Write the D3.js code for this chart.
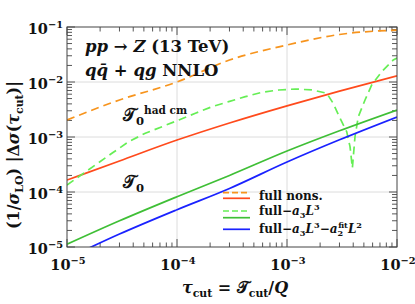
<!DOCTYPE html>
<html lang="en">
<head>
  <meta charset="UTF-8">
  <title>tau cut power corrections</title>
  <style>
    body { margin: 0; background: #fff; }
    svg { display: block; }
    text { font-family: 'DejaVu Serif', serif; font-weight: bold; fill: #111; }
  </style>
</head>
<body>
  <svg width="415" height="304"></svg>
  <script src="https://d3js.org/d3.v7.min.js"></script>
  <script>
    // data
    const tauGrid = [1e-5, 3e-5, 1e-4, 3e-4, 1e-3, 3e-3, 1e-2];
    const fullNonsHad = [2.04e-3, 4.71e-3, 1.0e-2, 2.51e-2, 4.71e-2, 7.31e-2, 8.81e-2];
    const fullNons = [1.65e-4, 3.67e-4, 8.8e-4, 1.80e-3, 3.69e-3, 6.84e-3, 1.29e-2];
    const fullA3 = [1.12e-5, 2.99e-5, 8.2e-5, 2.0e-4, 5.56e-4, 1.3e-3, 3.1e-3];
    const fullA3A2 = [6.2e-6, 1.72e-5, 4.77e-5, 1.16e-4, 3.51e-4, 8.9e-4, 2.31e-3];

    // full - a3 L^3 for hadronic cm Tau0 (changes sign, dip)
    const tauHadA3 = [1e-5, 1.81e-5, 2.56e-5, 3.64e-5, 5.15e-5, 7.31e-5, 1.04e-4, 1.47e-4, 2.08e-4,
      2.95e-4, 4.18e-4, 5.93e-4, 8.41e-4, 1.19e-3, 1.69e-3, 2.30e-3, 2.62e-3, 3.03e-3, 3.49e-3,
      3.74e-3, 3.93e-3, 4.15e-3, 4.45e-3, 5.12e-3, 5.89e-3, 7.26e-3, 9.25e-3, 1e-2];
    const fullA3Had = [1.34e-4, 3.10e-4, 5.06e-4, 8.22e-4, 1.17e-3, 1.54e-3, 2.04e-3, 2.70e-3, 3.56e-3,
      4.39e-3, 5.41e-3, 6.50e-3, 7.16e-3, 7.46e-3, 7.16e-3, 6.24e-3, 4.15e-3, 2.21e-3, 1.25e-3,
      6.67e-4, 2.73e-4, 1.01e-3, 2.34e-3, 4.71e-3, 8.81e-3, 1.54e-2, 2.51e-2, 2.73e-2];

    const xDecades = [-5, -4, -3, -2];
    const yDecades = [-5, -4, -3, -2, -1];

    const svg = d3.select('svg');
    const pl = 67, pr = 397, pt = 27, pb = 247;

    const x = d3.scaleLog().domain([1e-5, 1e-2]).range([pl, pr]);
    const y = d3.scaleLog().domain([1e-5, 1e-1]).range([pb, pt]);

    // rich text helper: parts = [text, {i, sup, sub, dx, roman}]
    function rich(sel, px, py, parts, size, anchor) {
      const t = sel.append('text')
        .attr('x', px).attr('y', py)
        .attr('font-size', size)
        .attr('text-anchor', anchor || 'start');
      let shift = 0;
      parts.forEach(p => {
        const [str, o] = typeof p === 'string' ? [p, {}] : p;
        let target = 0;
        if (o.sup) target = -size * 0.42;
        if (o.sub) target = size * 0.25;
        const ts = t.append('tspan')
          .attr('dy', target - shift)
          .text(str);
        if (o.dx) ts.attr('dx', o.dx);
        if (o.i) ts.attr('font-style', 'italic');
        if (o.sup || o.sub) ts.attr('font-size', size * (o.sc || 0.68));
        shift = target;
      });
      return t;
    }

    // grid
    const grid = svg.append('g').attr('stroke', '#dcdcdc').attr('stroke-width', 1);
    [-4, -3, -2].forEach(e => {
      grid.append('line').attr('x1', pl).attr('x2', pr)
        .attr('y1', y(10 ** e)).attr('y2', y(10 ** e));
    });
    [-4, -3].forEach(e => {
      grid.append('line').attr('y1', pt).attr('y2', pb)
        .attr('x1', x(10 ** e)).attr('x2', x(10 ** e));
    });

    // ticks, inward on all sides
    const minor = (decs) => {
      const out = [];
      decs.slice(0, -1).forEach(e => { for (let k = 2; k <= 9; k++) out.push(k * 10 ** e); });
      return out;
    };
    const xMajor = xDecades.map(e => 10 ** e), yMajor = yDecades.map(e => 10 ** e);
    const ax = svg.append('g').attr('stroke', '#444').attr('stroke-width', 0.9);
    function tickSet(vals, len, isX) {
      vals.forEach(v => {
        if (isX) {
          const px = x(v);
          ax.append('line').attr('x1', px).attr('x2', px).attr('y1', pb).attr('y2', pb - len);
          ax.append('line').attr('x1', px).attr('x2', px).attr('y1', pt).attr('y2', pt + len);
        } else {
          const py = y(v);
          ax.append('line').attr('y1', py).attr('y2', py).attr('x1', pl).attr('x2', pl + len);
          ax.append('line').attr('y1', py).attr('y2', py).attr('x1', pr).attr('x2', pr - len);
        }
      });
    }
    tickSet(xMajor, 8, true);
    tickSet(minor(xDecades), 4.5, true);
    tickSet(yMajor, 8, false);
    tickSet(minor(yDecades), 5, false);

    // clip
    svg.append('clipPath').attr('id', 'plot')
      .append('rect').attr('x', pl).attr('y', pt)
      .attr('width', pr - pl).attr('height', pb - pt);

    const lineMono = d3.line().x(d => x(d[0])).y(d => y(d[1])).curve(d3.curveMonotoneX);
    const lineLin = d3.line().x(d => x(d[0])).y(d => y(d[1]));

    const series = [
      { tau: tauGrid, vals: fullNonsHad, color: '#f7941d', dash: '8,5', gen: lineMono },
      { tau: tauGrid, vals: fullNons, color: '#ff4a1c', dash: null, gen: lineMono },
      { tau: tauHadA3, vals: fullA3Had, color: '#66ee55', dash: '8,5', gen: lineLin },
      { tau: tauGrid, vals: fullA3, color: '#3fbf36', dash: null, gen: lineMono },
      { tau: tauGrid, vals: fullA3A2, color: '#1a22ff', dash: null, gen: lineMono }
    ];

    const curves = svg.append('g').attr('clip-path', 'url(#plot)');
    series.forEach(s => {
      curves.append('path')
        .datum(s.tau.map((t, i) => [t, s.vals[i]]))
        .attr('d', s.gen)
        .attr('fill', 'none')
        .attr('stroke', s.color)
        .attr('stroke-width', 1.7)
        .attr('stroke-dasharray', s.dash);
    });

    // frame
    svg.append('rect').attr('x', pl).attr('y', pt)
      .attr('width', pr - pl).attr('height', pb - pt)
      .attr('fill', 'none').attr('stroke', '#444').attr('stroke-width', 1);

    // tick labels
    yDecades.forEach(e => {
      rich(svg, pl - 4, y(10 ** e) + 7, ['10', [`\u2212${-e}`, { sup: true }]], 14.5, 'end');
    });
    xDecades.forEach(e => {
      rich(svg, x(10 ** e) + 1, 270, ['10', [`\u2212${-e}`, { sup: true }]], 14.5, 'middle');
    });

    // axis titles
    rich(svg, 235, 293, [['\u03c4', { i: true }], ['cut', { sub: true }], [' = ', {}],
      ['\ud835\udcaf', {}], ['cut', { sub: true }], ['/', {}], ['Q', { i: true }]], 16, 'middle');

    const yl = svg.append('g').attr('transform', 'translate(19,155) rotate(-90)');
    rich(yl, 0, 0, ['(1/', ['\u03c3', { i: true }], ['LO', { sub: true }], ') |\u0394',
      ['\u03c3', { i: true }], '(', ['\u03c4', { i: true }], ['cut', { sub: true }], ')|'], 16, 'middle');

    // annotations
    rich(svg, 85, 52, [['pp', { i: true }], ' \u2192 ', ['Z', { i: true }], ' (13 TeV)'], 16.5);
    rich(svg, 85, 76, [['q', { i: true }], ['q\u0304', { i: true }], ' + ', ['qg', { i: true }], ' NNLO'], 16.5);
    rich(svg, 123, 121, ['\ud835\udcaf', ['0', { sub: true }], ['had cm', { sup: true, sc: 0.62 }]], 17);
    rich(svg, 123, 188, ['\ud835\udcaf', ['0', { sub: true }]], 17);

    // legend
    const legend = svg.append('g');
    const lx1 = 223, lx2 = 250, tx = 259;
    const legendLines = [
      { y: 192.7, color: '#f7941d', dash: '6,3' },
      { y: 198.3, color: '#ff4a1c', dash: null },
      { y: 211, color: '#66ee55', dash: '6,3' },
      { y: 217.7, color: '#3fbf36', dash: null },
      { y: 229.3, color: '#1a22ff', dash: null }
    ];
    legendLines.forEach(l => {
      legend.append('line').attr('x1', lx1).attr('x2', lx2).attr('y1', l.y).attr('y2', l.y)
        .attr('stroke', l.color).attr('stroke-width', 1.7).attr('stroke-dasharray', l.dash);
    });
    rich(legend, tx, 200, ['full nons.'], 12);
    rich(legend, tx, 215, ['full\u2212', ['a', { i: true }], ['3', { sub: true }], ['L', { i: true }], ['3', { sup: true }]], 12);
    rich(legend, tx, 233, ['full\u2212', ['a', { i: true }], ['3', { sub: true }], ['L', { i: true }], ['3', { sup: true }],
      '\u2212', ['a', { i: true }], ['2', { sub: true }], ['fit', { sup: true, dx: -5 }], ['L', { i: true }], ['2', { sup: true }]], 12);
  </script>
</body>
</html>
